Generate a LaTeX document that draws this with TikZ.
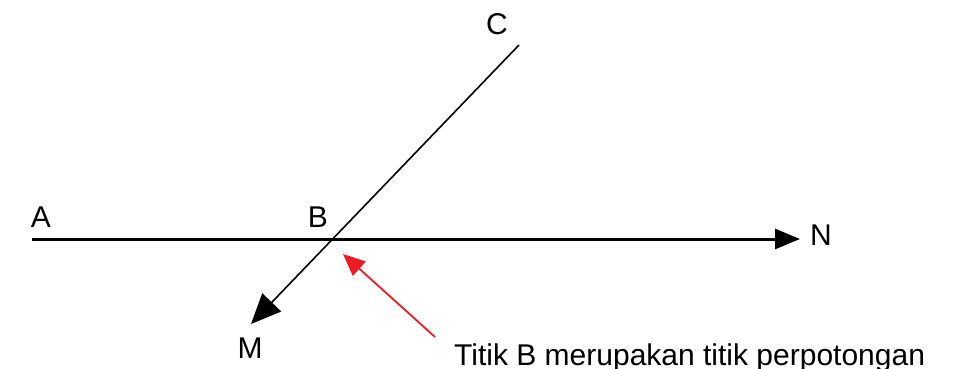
\documentclass[tikz,border=0pt]{standalone}
\usepackage{fontspec}
\setmainfont{Liberation Sans}
\usetikzlibrary{arrows.meta}
\definecolor{linec}{HTML}{000000}
\definecolor{notec}{HTML}{ED1C24}
\tikzset{
  lbl/.style={font=\fontsize{30}{36}\selectfont,inner sep=0pt},
  ray/.style={line width=3pt,linec,-{Triangle[length=25pt,width=20pt]}},
  slant/.style={line width=1.6pt,linec,-{Triangle[length=30pt,width=26pt]}},
  pointer/.style={line width=1.8pt,notec,-{Triangle[length=22pt,width=19pt]}}
}
\begin{document}
\begin{tikzpicture}[x=1pt,y=-1pt]
\useasboundingbox (0,0) rectangle (953,369);
% ends of the lines
\coordinate (a) at (32,239);
\coordinate (n) at (800,239);
\coordinate (c) at (519,45);
\coordinate (m) at (251,324);
\coordinate (b) at (335,239);
\coordinate (note) at (435,337);
\coordinate (bt) at (343,254);
% lines
\draw[ray] (a) -- (n);
\draw[slant] (c) -- (m);
\draw[pointer] (note) -- (bt);
% labels
\node[lbl] (la) at (41,217) {A};
\node[lbl] (lb) at (318,217) {B};
\node[lbl] (lc) at (497,24) {C};
\node[lbl] (ln) at (821,235) {N};
\node[lbl] (lm) at (250,348) {M};
\node[lbl,anchor=base west] (ltext) at (454,365) {Titik B merupakan titik perpotongan};
\end{tikzpicture}
\end{document}
